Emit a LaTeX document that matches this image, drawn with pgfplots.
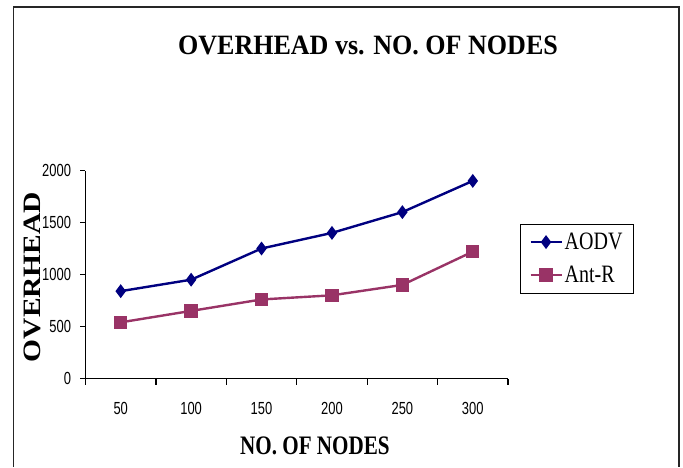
\documentclass[border=0pt]{standalone}
\usepackage{fontspec}
\usepackage{pgfplots}
\pgfplotsset{compat=1.18}
\setmainfont{Liberation Serif}
\newfontfamily\titlefont[FakeStretch=0.93]{Liberation Serif}
\newfontfamily\ylabfont[FakeStretch=1.18]{Liberation Serif}
\newfontfamily\xlabfont[FakeStretch=0.79]{Liberation Serif}
\newfontfamily\legfont[FakeStretch=0.8]{Liberation Serif}
\newfontfamily\ticksans[FakeStretch=0.74]{Liberation Sans}
\definecolor{aodv}{RGB}{0,0,128}
\definecolor{antr}{RGB}{153,51,102}
\begin{document}
\begin{tikzpicture}[x=1pt,y=1pt]
\begin{axis}[
  anchor=south west,
  scale only axis, width=422.5pt, height=208pt,
  xmin=0.5, xmax=6.5, ymin=0, ymax=2000,
  axis x line*=bottom, axis y line*=left,
  axis line style={line width=1.2pt, black},
  xtick={1,2,3,4,5,6},
  xticklabels={50,100,150,200,250,300},
  major x tick style={draw=none},
  minor xtick={0.5,1.5,2.5,3.5,4.5,5.5,6.5},
  minor tick length=6pt,
  ytick={0,500,1000,1500,2000},
  major tick length=5pt,
  tick align=outside,
  tick style={line width=1.2pt, black},
  /pgf/number format/1000 sep={},
  /pgf/number format/assume math mode=true,
  tick label style={font=\ticksans\fontsize{17.5}{17.5}\selectfont},
  xticklabel style={yshift=-15pt},
  yticklabel style={xshift=-6pt},
  title={\titlefont\bfseries OVERHEAD vs. NO. OF NODES},
  title style={at={(axis description cs:0.6686,1.5745)}, anchor=center, font=\fontsize{28}{28}\selectfont},
  xlabel={\xlabfont\bfseries NO. OF NODES},
  xlabel style={at={(axis description cs:0.543,-0.3245)}, anchor=center, font=\fontsize{26.7}{26.7}\selectfont},
  ylabel={\ylabfont\bfseries OVERHEAD},
  ylabel style={at={(axis description cs:-0.125,0.488)}, anchor=center, font=\fontsize{25}{25}\selectfont},
  clip=false,
  legend cell align=left,
  legend style={at={(1.028,0.745)}, anchor=north west, draw=black, line width=1pt,
    font=\legfont\fontsize{25}{25}\selectfont,
    inner xsep=9pt, inner ysep=7pt, row sep=11pt,
    nodes={inner sep=2pt}},
  legend image code/.code={\draw[mark repeat=2,mark phase=2,#1] plot coordinates {(0pt,0pt)(15.5pt,0pt)(31pt,0pt)};},
]
\addplot[color=aodv, line width=2.4pt, mark=diamond*, mark size=5pt, mark options={solid, fill=aodv}]
  coordinates {(1,840) (2,950) (3,1250) (4,1400) (5,1600) (6,1900)};
\addlegendentry{AODV}
\addplot[color=antr, line width=2.4pt, mark=square*, mark size=5.5pt, mark options={solid, fill=antr}]
  coordinates {(1,540) (2,650) (3,760) (4,800) (5,900) (6,1220)};
\addlegendentry{Ant-R}
\end{axis}
\draw[line width=1.6pt,black!85] (-72,-88.5) -- (-72,371.5) -- (593.5,371.5) -- (593.5,-88.5);
\pgfresetboundingbox
\path[use as bounding box] (-85.5,-88.5) rectangle (597.5,378.5);
\end{tikzpicture}
\end{document}
